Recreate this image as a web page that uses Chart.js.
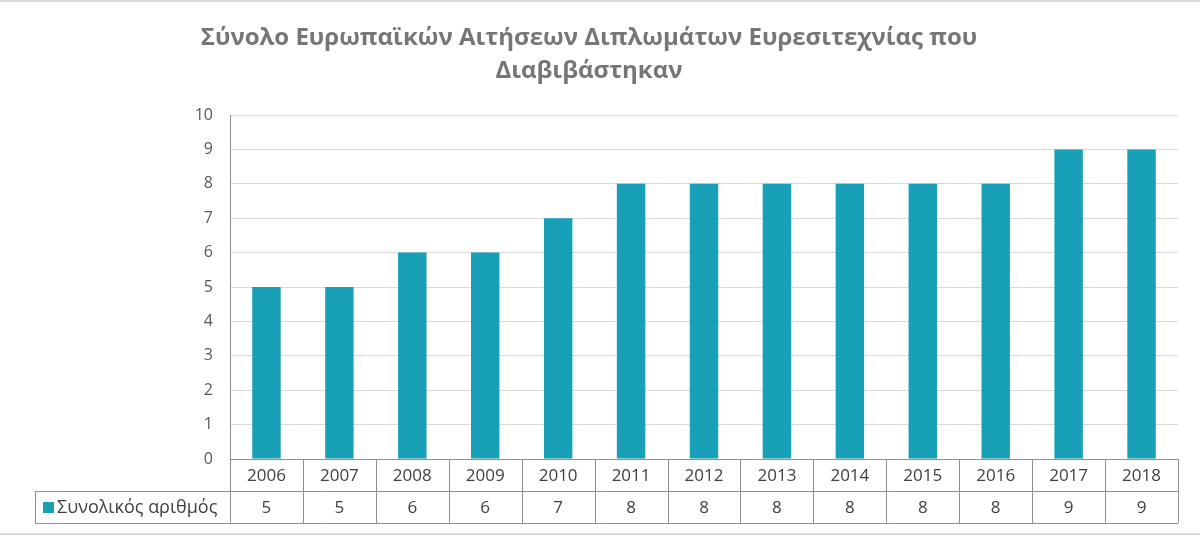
<!DOCTYPE html>
<html>
<head>
<meta charset="utf-8">
<script src="https://cdn.jsdelivr.net/npm/chart.js@4"></script>
<style>
  body { margin: 0; background: #fff; }
  canvas { display: block; }
</style>
</head>
<body>
<canvas id="patentChart" width="1200" height="536"></canvas>
<script>
var years = ['2006', '2007', '2008', '2009', '2010', '2011', '2012', '2013', '2014', '2015', '2016', '2017', '2018'];
var totals = [5, 5, 6, 6, 7, 8, 8, 8, 8, 8, 8, 9, 9];
var seriesName = 'Συνολικός αριθμός';
var titleLines = ['Σύνολο Ευρωπαϊκών Αιτήσεων Διπλωμάτων Ευρεσιτεχνίας που', 'Διαβιβάστηκαν'];
var yTicks = [0, 1, 2, 3, 4, 5, 6, 7, 8, 9, 10];

var barColor = '#17A0B7';
var fontFamily = '"Open Sans", "Noto Sans", sans-serif';

// data table under the plot, Excel style
var dataTable = {
    id: 'dataTable',
    afterDraw: function(chart) {
        var ctx = chart.ctx;
        var area = chart.chartArea;
        var x = chart.scales.x;
        var step = (area.right - area.left) / years.length;
        var rowH = 32;
        var top = area.bottom;
        var mid = top + rowH;
        var bot = top + rowH * 2;
        var tableLeft = 35;

        ctx.save();
        ctx.strokeStyle = '#8F8F8F';
        ctx.lineWidth = 1;
        ctx.beginPath();
        ctx.moveTo(area.left, top + 0.5); ctx.lineTo(area.right, top + 0.5);
        ctx.moveTo(tableLeft, mid + 0.5); ctx.lineTo(area.right, mid + 0.5);
        ctx.moveTo(tableLeft, bot + 0.5); ctx.lineTo(area.right, bot + 0.5);
        ctx.moveTo(tableLeft + 0.5, mid); ctx.lineTo(tableLeft + 0.5, bot);
        for (var k = 0; k <= years.length; k++) {
            var bx = Math.round(area.left + k * step) + 0.5;
            ctx.moveTo(bx, top); ctx.lineTo(bx, bot);
        }
        ctx.stroke();

        ctx.fillStyle = '#404040';
        ctx.font = '17px ' + fontFamily;
        ctx.textAlign = 'center';
        ctx.textBaseline = 'middle';
        years.forEach(function(yr, i) {
            var cx = x.getPixelForValue(i);
            ctx.fillText(yr, cx, top + rowH / 2 + 1);
            ctx.fillText(String(chart.data.datasets[0].data[i]), cx, mid + rowH / 2 + 1);
        });

        // legend key
        ctx.fillStyle = barColor;
        ctx.fillRect(43, mid + 11, 11, 11);
        ctx.fillStyle = '#404040';
        ctx.textAlign = 'left';
        ctx.font = '18px ' + fontFamily;
        ctx.fillText(seriesName, 57, mid + rowH / 2 + 1);

        // outer frame lines of the picture
        ctx.strokeStyle = '#D9D9D9';
        ctx.lineWidth = 2;
        ctx.beginPath();
        ctx.moveTo(0, 1); ctx.lineTo(1200, 1);
        ctx.moveTo(0, 534); ctx.lineTo(1200, 534);
        ctx.stroke();
        ctx.restore();
    }
};

var ctxBar = document.getElementById('patentChart').getContext('2d');
var patentChart = new Chart(ctxBar, {
    type: 'bar',
    data: {
        labels: years,
        datasets: [{
            label: seriesName,
            data: totals,
            backgroundColor: barColor,
            categoryPercentage: 1,
            barPercentage: 0.39
        }]
    },
    options: {
        responsive: false,
        animation: false,
        devicePixelRatio: 1,
        layout: {
            padding: { left: 0, right: 22, bottom: 77 }
        },
        plugins: {
            legend: { display: false },
            tooltip: { enabled: false },
            title: {
                display: true,
                text: titleLines,
                color: '#767676',
                font: { family: fontFamily, size: 24, weight: 'bold', lineHeight: 1.375 },
                padding: { top: 22, bottom: 27 }
            }
        },
        scales: {
            x: {
                display: false
            },
            y: {
                min: 0,
                max: 10,
                afterFit: function(scale) { scale.width = 230; },
                afterBuildTicks: function(scale) {
                    scale.ticks = yTicks.map(function(v) { return { value: v }; });
                },
                grid: {
                    color: '#D9D9D9',
                    drawTicks: false
                },
                border: { color: '#8F8F8F' },
                ticks: {
                    color: '#595959',
                    padding: 17,
                    font: { family: fontFamily, size: 16 }
                }
            }
        }
    },
    plugins: [dataTable]
});
</script>
</body>
</html>
